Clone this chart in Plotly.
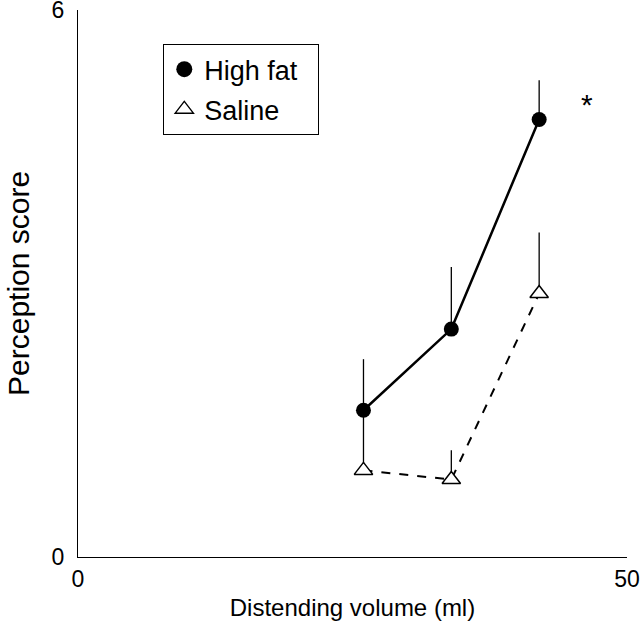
import plotly.graph_objects as go

volume = [26, 34, 42]
high_fat = [1.61, 2.50, 4.80]
high_fat_err = [0.56, 0.68, 0.43]
saline = [0.95, 0.85, 2.89]
saline_err = [0.62, 0.32, 0.67]

FONT = "Liberation Sans, Arial, sans-serif"
PAD = "\u00a0\u00a0"

fig = go.Figure()

fig.add_trace(go.Scatter(
    x=volume, y=saline, mode="lines+markers", showlegend=False,
    line=dict(color="black", width=2, dash="dash"),
    marker=dict(symbol="triangle-up", size=16, color="white",
                line=dict(color="black", width=1.5)),
    error_y=dict(type="data", symmetric=False, array=saline_err,
                 arrayminus=[0, 0, 0], color="black", thickness=1.3, width=0),
))
fig.add_trace(go.Scatter(
    x=volume, y=high_fat, mode="lines+markers", showlegend=False,
    line=dict(color="black", width=2.5),
    marker=dict(symbol="circle", size=15, color="black"),
    error_y=dict(type="data", symmetric=False, array=high_fat_err,
                 arrayminus=[0, 0, 0], color="black", thickness=1.3, width=0),
))

# legend-only entries
fig.add_trace(go.Scatter(
    x=[None], y=[None], mode="markers", name="High fat" + PAD, legendgroup="a",
    marker=dict(symbol="circle", size=16, color="black"),
))
fig.add_trace(go.Scatter(
    x=[None], y=[None], mode="markers", name="Saline", legendgroup="b",
    marker=dict(symbol="triangle-up-open", size=16, color="black",
                line=dict(width=1.3)),
))

fig.add_annotation(x=46.4, y=4.965, text="*", showarrow=False,
                   font=dict(family=FONT, size=30, color="black"))

# y-axis title placed in the left margin
fig.add_annotation(xref="paper", yref="paper", x=-0.1421, y=0.5,
                   text="Perception score", textangle=-90, showarrow=False,
                   xanchor="left", yanchor="middle",
                   font=dict(family=FONT, size=30, color="black"))

fig.update_layout(
    width=640, height=626,
    margin=dict(l=78, r=13, t=10, b=69),
    paper_bgcolor="white", plot_bgcolor="white",
    font=dict(family=FONT, size=23, color="black"),
    legend=dict(x=0.155, y=0.938, xanchor="left", yanchor="top",
                bordercolor="black", borderwidth=1.2, bgcolor="white",
                font=dict(family=FONT, size=27, color="black"),
                itemwidth=30, tracegroupgap=2),
    showlegend=True,
)
fig.update_xaxes(
    range=[0, 50], tickvals=[0, 50], ticktext=["0", "50"],
    showgrid=False, zeroline=False, showline=True, linecolor="black", linewidth=1.2,
    ticks="inside", ticklen=13, tickcolor="black", tickwidth=1.2,
    ticklabelstandoff=1, automargin=False, ticklabeloverflow="allow",
    title=dict(text="Distending volume (ml)", font=dict(family=FONT, size=24), standoff=8),
)
fig.update_yaxes(
    range=[0, 6.0005], tickvals=[0, 6], ticktext=["0", "6"],
    showgrid=False, zeroline=False, showline=True, linecolor="black", linewidth=1.2,
    ticks="inside", ticklen=13, tickcolor="black", tickwidth=1.2,
    ticklabelstandoff=8, automargin=False, ticklabeloverflow="allow",
)

fig.write_html(
    "out.html",
    config={"displayModeBar": False},
    post_script="document.body.style.margin='0';document.body.style.overflow='hidden';",
)
